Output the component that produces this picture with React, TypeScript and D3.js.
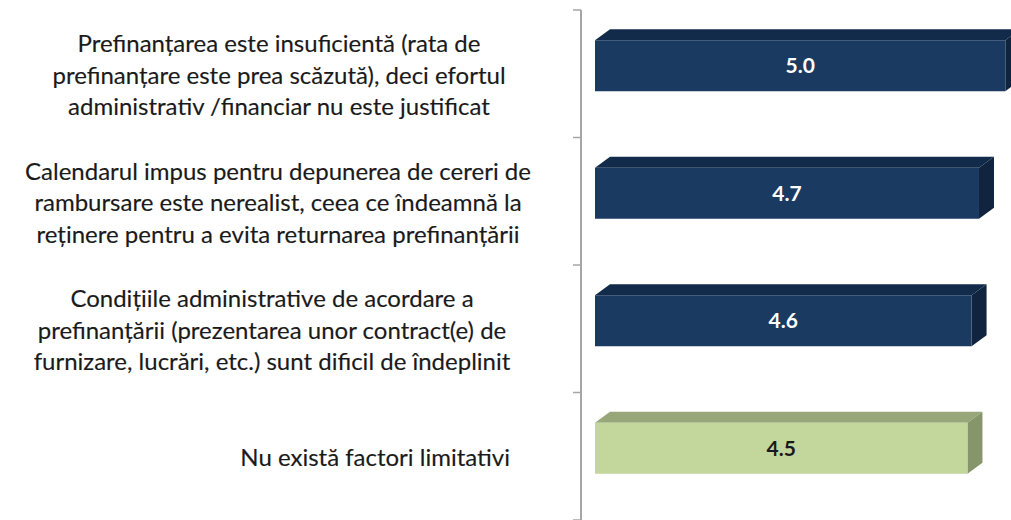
import React from "react";
import * as d3 from "d3";

const categories: string[][] = [
  [
    "Prefinanțarea este insuficientă (rata de",
    "prefinanțare este prea scăzută), deci efortul",
    "administrativ /financiar nu este justificat",
  ],
  [
    "Calendarul impus pentru depunerea de cereri de",
    "rambursare este nerealist, ceea ce îndeamnă la",
    "reținere pentru a evita returnarea prefinanțării",
  ],
  [
    "Condițiile administrative de acordare a",
    "prefinanțării (prezentarea unor contract(e) de",
    "furnizare, lucrări, etc.) sunt dificil de îndeplinit",
  ],
  ["Nu există factori limitativi"],
];
const values: number[] = [4.98, 4.66, 4.57, 4.52];
const highlight: boolean[] = [true, true, true, false];

const W = 1011;
const H = 520;

export default function App() {
  const keys = categories.map((_, i) => String(i));
  const y = d3.scaleBand<string>().domain(keys).range([10, 520]).paddingInner(0);
  const x = d3.scaleLinear().domain([0, 5]).range([595, 1007]);
  const fmt = d3.format(".1f");
  const axisX = 581;
  const barH = 51;
  const dx = 15;
  const dy = 11;
  const lineH = 31.5;
  const font = "Lato, 'Open Sans', sans-serif";
  const centers = [279, 278, 272];

  const ticks = [...keys.map((k) => y(k)!), 520];

  return (
    <svg
      width={W}
      height={H}
      style={{ position: "absolute", left: 0, top: 0, background: "#fff" }}
    >
      {/* axis */}
      <line x1={axisX} x2={axisX} y1={10} y2={520} stroke="#a6a6a6" strokeWidth={2} />
      {ticks.map((t, i) => (
        <line key={i} x1={573} x2={axisX} y1={t} y2={t} stroke="#a6a6a6" strokeWidth={1.5} />
      ))}

      {categories.map((lines, i) => {
        const bc = y(String(i))! + y.bandwidth() / 2;
        const yTop = bc - 8 - barH / 2;
        const yBot = yTop + barH;
        const x0 = x(0);
        const x1 = x(values[i]);
        const navy = highlight[i];
        const front = navy ? "#1b3a62" : "#c3d69b";
        const top = navy ? "#132b4a" : "#98a779";
        const side = navy ? "#10243f" : "#87956a";
        const single = lines.length === 1;
        return (
          <g key={i}>
            {/* category label */}
            {lines.map((ln, j) => (
              <text
                key={j}
                x={single ? 510 : centers[i]}
                y={bc + 10 + (j - (lines.length - 1) / 2) * lineH}
                textAnchor={single ? "end" : "middle"}
                fontFamily={font}
                fontSize={24}
                fill="#1a1a1a"
                stroke="#1a1a1a"
                strokeWidth={0.15}
              >
                {ln}
              </text>
            ))}
            {/* 3D bar */}
            <polygon
              points={`${x0},${yTop} ${x0 + dx},${yTop - dy} ${x1 + dx},${yTop - dy} ${x1},${yTop}`}
              fill={top}
            />
            <polygon
              points={`${x1},${yTop} ${x1 + dx},${yTop - dy} ${x1 + dx},${yBot - dy} ${x1},${yBot}`}
              fill={side}
            />
            <rect x={x0} y={yTop} width={x1 - x0} height={barH} fill={front} />
            <text
              x={(x0 + x1) / 2}
              y={(yTop + yBot) / 2 + 7.5}
              textAnchor="middle"
              fontFamily={font}
              fontWeight="bold"
              fontSize={21}
              fill={navy ? "#ffffff" : "#1a1a1a"}
            >
              {fmt(values[i])}
            </text>
          </g>
        );
      })}
    </svg>
  );
}
